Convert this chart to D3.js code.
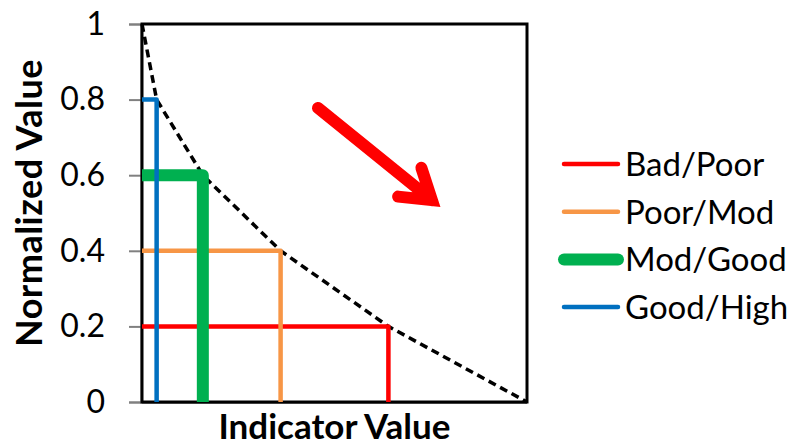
<!DOCTYPE html>
<html>
<head>
<meta charset="utf-8">
<script src="https://cdn.jsdelivr.net/npm/d3@7"></script>
<style>
  body { margin: 0; background: white; }
  text { font-family: Lato, "Open Sans", sans-serif; }
</style>
</head>
<body>
<div id="chart"></div>
<script>
let w = 805;
let h = 445;
let margin = {top: 24, right: 278, bottom: 43, left: 142};

// threshold series (Excel-style order)
let seriesNames = ["Bad/Poor", "Poor/Mod", "Mod/Good", "Good/High"];
let seriesColors = ["#ff0000", "#f79646", "#00b050", "#0070c0"];
let seriesWidths = [4.5, 4.5, 12, 4.5];
let thresholdX = [64, 36, 15.8, 3.8];
let thresholdY = [0.2, 0.4, 0.6, 0.8];

// normalization curve
let curveX = [0, 3.8, 15.8, 36, 64, 100];
let curveY = [1, 0.8, 0.6, 0.4, 0.2, 0];

let yTicks = [0, 0.2, 0.4, 0.6, 0.8, 1];

// annotation arrow, in data units
let arrowStart = [45.7, 0.778];
let arrowEnd = [75.3, 0.534];

let viz = d3.select("#chart")
  .append("svg")
  .attr("width", w)
  .attr("height", h);

let xScale = d3.scaleLinear().domain([0, 100]).range([margin.left, w - margin.right]);
let yScale = d3.scaleLinear().domain([0, 1]).range([h - margin.bottom, margin.top]);

// y axis
let yAxis = d3.axisLeft(yScale)
  .tickValues(yTicks)
  .tickFormat(d => d === 0 || d === 1 ? d3.format("d")(d) : d3.format(".1f")(d))
  .tickSize(12)
  .tickPadding(24);

let yAxisGroup = viz.append("g")
  .attr("transform", "translate(" + (margin.left - 1) + ",0)")
  .call(yAxis);
yAxisGroup.select(".domain").attr("stroke", "#808080").attr("stroke-width", 2);
yAxisGroup.selectAll(".tick line").attr("stroke", "#808080").attr("stroke-width", 2);
yAxisGroup.selectAll(".tick text")
  .attr("font-size", 32)
  .attr("font-family", "Lato, sans-serif")
  .attr("fill", "#000");

// bottom gray axis line
viz.append("line")
  .attr("x1", xScale(0)).attr("x2", xScale(100))
  .attr("y1", yScale(0) + 1).attr("y2", yScale(0) + 1)
  .attr("stroke", "#808080").attr("stroke-width", 2);

// plot border
viz.append("rect")
  .attr("x", xScale(0))
  .attr("y", yScale(1))
  .attr("width", xScale(100) - xScale(0))
  .attr("height", yScale(0) - yScale(1))
  .attr("fill", "none")
  .attr("stroke", "#000")
  .attr("stroke-width", 3);

let line = d3.line()
  .x(d => xScale(d[0]))
  .y(d => yScale(d[1]));

// dashed curve
viz.append("path")
  .datum(curveX.map((x, i) => [x, curveY[i]]))
  .attr("d", line)
  .attr("fill", "none")
  .attr("stroke", "#000")
  .attr("stroke-width", 3.5)
  .attr("stroke-dasharray", "8,5");

// threshold lines
seriesNames.forEach((name, i) => {
  let pts = [[0, thresholdY[i]], [thresholdX[i], thresholdY[i]], [thresholdX[i], 0]];
  viz.append("path")
    .datum(pts)
    .attr("d", line)
    .attr("fill", "none")
    .attr("stroke", seriesColors[i])
    .attr("stroke-width", seriesWidths[i])
    .attr("stroke-linejoin", "round");
});

// arrow
let ax1 = xScale(arrowStart[0]), ay1 = yScale(arrowStart[1]);
let ax2 = xScale(arrowEnd[0]), ay2 = yScale(arrowEnd[1]);
let ang = Math.atan2(ay2 - ay1, ax2 - ax1) + Math.PI;
let headLen = 34, headAng = 33 * Math.PI / 180;
let arm1 = [ax2 + headLen * Math.cos(ang - headAng), ay2 + headLen * Math.sin(ang - headAng)];
let arm2 = [ax2 + headLen * Math.cos(ang + headAng), ay2 + headLen * Math.sin(ang + headAng)];
let arrowPath = d3.path();
arrowPath.moveTo(ax1, ay1);
arrowPath.lineTo(ax2, ay2);
arrowPath.moveTo(arm1[0], arm1[1]);
arrowPath.lineTo(ax2, ay2);
arrowPath.lineTo(arm2[0], arm2[1]);
viz.append("path")
  .attr("d", arrowPath.toString())
  .attr("fill", "none")
  .attr("stroke", "#ff0000")
  .attr("stroke-width", 12)
  .attr("stroke-linecap", "round")
  .attr("stroke-linejoin", "miter");

// axis titles
viz.append("text")
  .attr("x", (xScale(0) + xScale(100)) / 2)
  .attr("y", 439)
  .attr("text-anchor", "middle")
  .attr("font-size", 35)
  .attr("font-weight", "bold")
  .text("Indicator Value");

viz.append("text")
  .attr("transform", "translate(42," + (yScale(0.5) - 10) + ") rotate(-90)")
  .attr("text-anchor", "middle")
  .attr("font-size", 36)
  .attr("font-weight", "bold")
  .attr("letter-spacing", 0.5)
  .text("Normalized Value");

// legend
let legend = viz.append("g").attr("transform", "translate(562,164)");
seriesNames.forEach((name, i) => {
  let row = legend.append("g").attr("transform", "translate(0," + (i * 47.7) + ")");
  row.append("line")
    .attr("x1", 2).attr("x2", 56)
    .attr("y1", 0).attr("y2", 0)
    .attr("stroke", seriesColors[i])
    .attr("stroke-width", seriesWidths[i])
    .attr("stroke-linecap", "round");
  row.append("text")
    .attr("x", 63)
    .attr("y", 0)
    .attr("dy", "0.36em")
    .attr("font-size", 33)
    .text(name);
});
</script>
</body>
</html>
